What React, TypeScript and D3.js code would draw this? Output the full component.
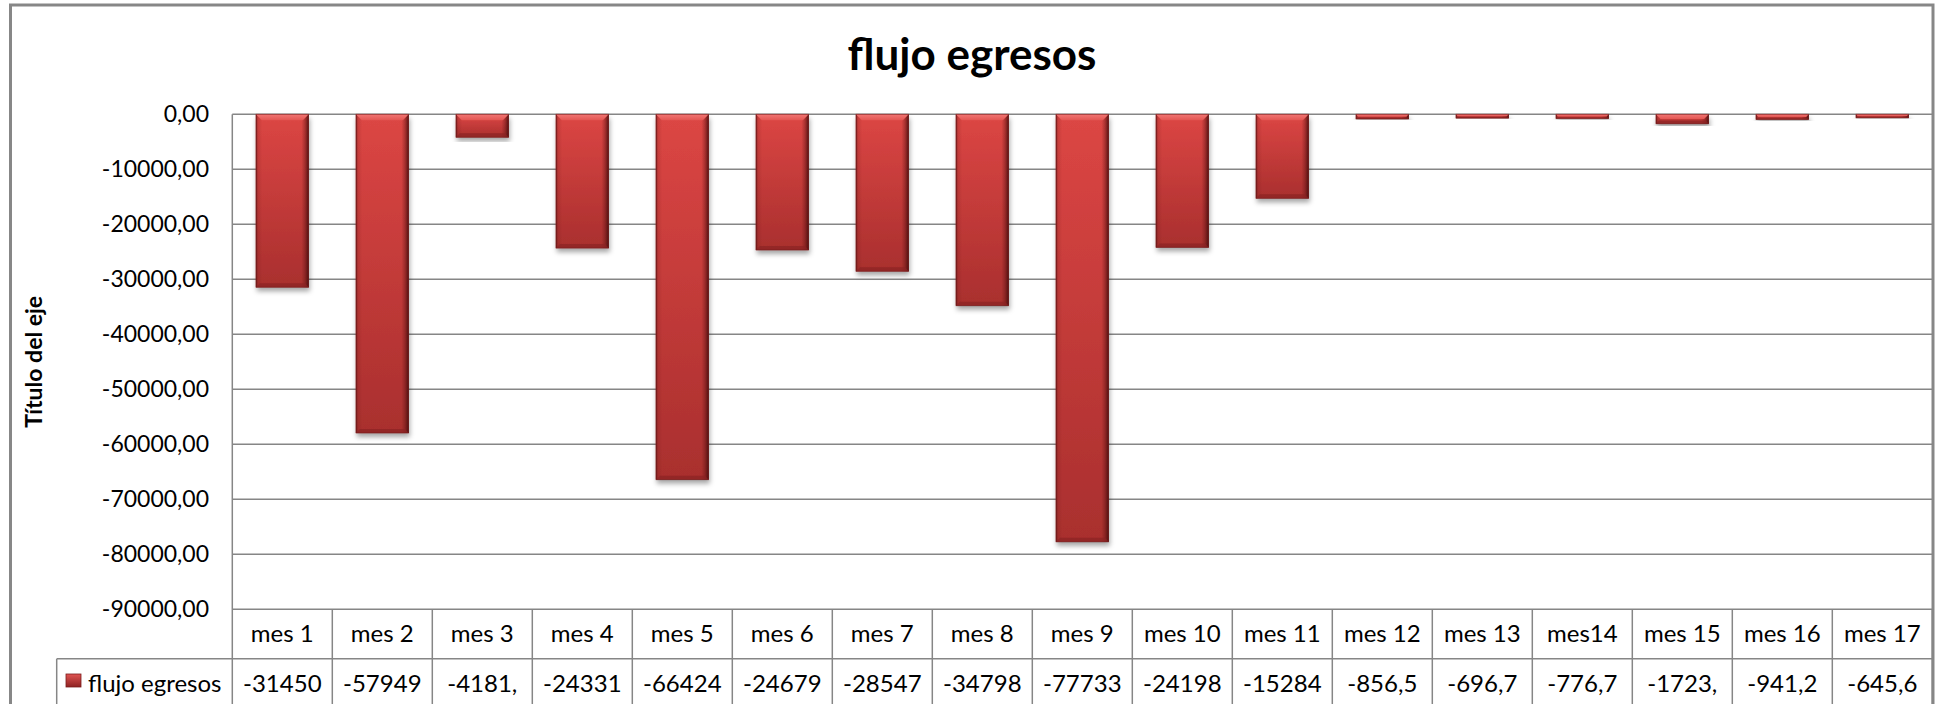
import * as d3 from 'd3'

// values read off the data table (truncated cells estimated)
const categories = [
  'mes 1', 'mes 2', 'mes 3', 'mes 4', 'mes 5', 'mes 6', 'mes 7', 'mes 8', 'mes 9',
  'mes 10', 'mes 11', 'mes 12', 'mes 13', 'mes14', 'mes 15', 'mes 16', 'mes 17',
]
const egresos = [
  -31450, -57949, -4181, -24331, -66424, -24679, -28547, -34798, -77733,
  -24198, -15284, -856.5, -696.7, -776.7, -1723, -941.2, -645.6,
]
const seriesName = 'flujo egresos'
const yTicks = [0, -10000, -20000, -30000, -40000, -50000, -60000, -70000, -80000, -90000]

const W = 1940
const H = 704
const FONT = 'Lato, "Open Sans", sans-serif'

const es = d3.formatLocale({ decimal: ',', thousands: '.', grouping: [3], currency: ['', ''], minus: '-' })
const fmt2 = es.format('.2f')
// the table cells are too narrow and cut the text at 6 characters
const cellText = (v: number) => fmt2(v).slice(0, 6)

export default function App() {
  const plotLeft = 232.3
  const plotRight = 1932.3
  const x = d3.scaleBand<string>().domain(categories).range([plotLeft, plotRight]).paddingInner(0.47).paddingOuter(0.235)
  const y = d3.scaleLinear().domain([-90000, 0]).range([609.3, 114.3])
  const step = x.step()
  const rowTop = y(-90000)
  const rowMid = rowTop + 49.5
  const rowBot = rowMid + 50
  const grid = '#868686'

  return (
    <svg width={W} height={H} style={{ position: 'absolute', left: 0, top: 0, background: '#fff' }}>
      <defs>
        <linearGradient id="barV" x1="0" y1="0" x2="0" y2="1">
          <stop offset="0" stopColor="#dc4644" />
          <stop offset="1" stopColor="#a92f2e" />
        </linearGradient>
        <linearGradient id="barH" x1="0" y1="0" x2="1" y2="0">
          <stop offset="0" stopColor="#5a1010" stopOpacity="0.75" />
          <stop offset="0.04" stopColor="#5a1010" stopOpacity="0.15" />
          <stop offset="0.12" stopColor="#5a1010" stopOpacity="0" />
          <stop offset="0.86" stopColor="#5a1010" stopOpacity="0" />
          <stop offset="0.93" stopColor="#4a0c0c" stopOpacity="0.35" />
          <stop offset="1" stopColor="#3a0808" stopOpacity="0.85" />
        </linearGradient>
        <linearGradient id="bevelTop" x1="0" y1="0" x2="0" y2="1">
          <stop offset="0" stopColor="#f27674" />
          <stop offset="1" stopColor="#e35652" />
        </linearGradient>
        <linearGradient id="legendKey" x1="0" y1="0" x2="0" y2="1">
          <stop offset="0" stopColor="#e05452" />
          <stop offset="1" stopColor="#8e2222" />
        </linearGradient>
        <filter id="shadow" x="-20%" y="-20%" width="140%" height="140%">
          <feDropShadow dx="1" dy="4" stdDeviation="2.5" floodColor="#000" floodOpacity="0.35" />
        </filter>
      </defs>

      {/* outer chart frame */}
      <rect x={10.5} y={5} width={1922.5} height={760} fill="#fff" stroke="#878787" strokeWidth={3} />

      <text x={972} y={70} textAnchor="middle" fontFamily={FONT} fontWeight={700} fontSize={44} fill="#000">
        {seriesName}
      </text>

      {/* gridlines */}
      {yTicks.map((t) => (
        <line key={t} x1={plotLeft} x2={plotRight} y1={y(t)} y2={y(t)} stroke={grid} strokeWidth={1.5} />
      ))}
      <line x1={plotLeft} x2={plotLeft} y1={y(0)} y2={H + 10} stroke={grid} strokeWidth={1.5} />

      {/* y tick labels */}
      {yTicks.map((t) => (
        <text key={t} x={209} y={y(t)} dy="0.35em" textAnchor="end" fontFamily={FONT} fontSize={23} fill="#000">
          {fmt2(t)}
        </text>
      ))}

      <text
        transform={`translate(42,${(y(0) + y(-90000)) / 2}) rotate(-90)`}
        textAnchor="middle"
        fontFamily={FONT}
        fontWeight={700}
        fontSize={23}
        fill="#000"
      >
        Título del eje
      </text>

      {/* bars */}
      {categories.map((c, i) => {
        const v = egresos[i]
        const bx = x(c) as number
        const bw = x.bandwidth()
        const y0 = y(0)
        const h = y(v) - y0
        const bev = Math.min(6, h / 2)
        const bot = Math.min(4, h / 3)
        return (
          <g key={c}>
            <rect x={bx} y={y0} width={bw} height={h} fill="url(#barV)" filter="url(#shadow)" />
            <rect x={bx} y={y0} width={bw} height={h} fill="url(#barH)" />
            <path
              d={`M${bx},${y0}H${bx + bw}L${bx + bw - bev},${y0 + bev}H${bx + bev}Z`}
              fill="url(#bevelTop)"
            />
            <path
              d={`M${bx},${y0 + h}H${bx + bw}L${bx + bw - bot},${y0 + h - bot}H${bx + bot}Z`}
              fill="#8a2424"
              opacity={0.7}
            />
            <rect x={bx + 0.5} y={y0} width={bw - 1} height={h} fill="none" stroke="#6e1a1a" strokeOpacity={0.6} strokeWidth={1} />
          </g>
        )
      })}

      {/* data table */}
      <line x1={56.7} x2={plotRight} y1={rowMid} y2={rowMid} stroke={grid} strokeWidth={1.5} />
      <line x1={56.7} x2={56.7} y1={rowMid} y2={H + 10} stroke={grid} strokeWidth={1.5} />
      {categories.map((c, i) => (
        <g key={c}>
          <line
            x1={plotLeft + step * (i + 1)}
            x2={plotLeft + step * (i + 1)}
            y1={rowTop}
            y2={H + 10}
            stroke={grid}
            strokeWidth={1.5}
          />
          <text
            x={(x(c) as number) + x.bandwidth() / 2}
            y={(rowTop + rowMid) / 2}
            dy="0.35em"
            textAnchor="middle"
            fontFamily={FONT}
            fontSize={24}
            fill="#000"
          >
            {c}
          </text>
          <text
            x={(x(c) as number) + x.bandwidth() / 2}
            y={(rowMid + rowBot) / 2}
            dy="0.35em"
            textAnchor="middle"
            fontFamily={FONT}
            fontSize={24}
            fill="#000"
          >
            {cellText(egresos[i])}
          </text>
        </g>
      ))}
      <rect x={66} y={674} width={15} height={13} fill="url(#legendKey)" stroke="#7a1c1c" strokeWidth={0.8} />
      <text x={88} y={(rowMid + rowBot) / 2} dy="0.35em" fontFamily={FONT} fontSize={24} fill="#000">
        {seriesName}
      </text>
    </svg>
  )
}
